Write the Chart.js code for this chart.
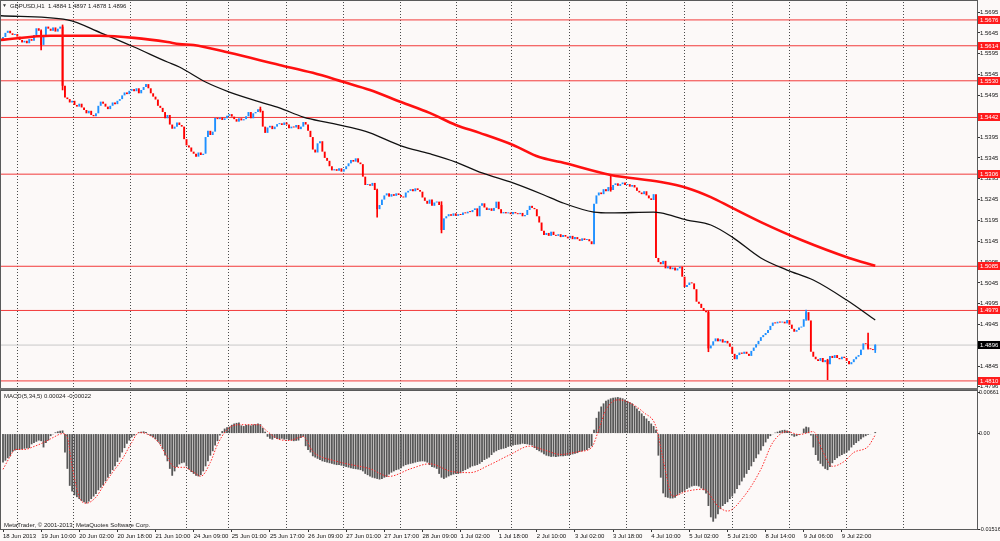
<!DOCTYPE html>
<html><head><meta charset="utf-8">
<script src="https://cdn.jsdelivr.net/npm/chart.js@4.4.1/dist/chart.umd.min.js"></script>
<style>
html,body{margin:0;padding:0;background:#fcf9f8;width:1000px;height:541px;overflow:hidden}
#top{position:absolute;left:0;top:0}
#bot{position:absolute;left:0;top:390px}
</style></head><body>
<canvas id="top" width="1000" height="390"></canvas>
<canvas id="bot" width="1000" height="151"></canvas>
<script>
// ---------------- data ----------------
const symbolTitle = "GBPUSD,H1";
const lastBarOHLC = [1.4884, 1.4897, 1.4878, 1.4896];
const firstOpen = 1.5630;
const closes = [
1.5635,1.5645,1.5650,1.5644,1.5640, 1.5642,1.5636,1.5628,1.5622,1.5626, 1.5620,1.5630,1.5626,1.5640,1.5656,
1.5650,1.5616, 1.5640,1.5660,1.5655,1.5650, 1.5658,1.5648,1.5655,1.5660, 1.5518,
1.5490,1.5486,1.5478,1.5482,1.5472,1.5468,1.5475,1.5466, 1.5460,1.5452,1.5458,1.5448,1.5445,1.5452,
1.5470,1.5480,1.5475, 1.5468,1.5462,1.5470, 1.5478,1.5474,1.5482,1.5486, 1.5495,1.5502,1.5498,1.5506,1.5510,
1.5505,1.5512,1.5500,1.5508, 1.5515,1.5522,1.5512,1.5500, 1.5492,1.5485,1.5470,1.5465,1.5455,
1.5440,1.5448,1.5425,1.5415,1.5420, 1.5430,1.5424, 1.5420, 1.5390,1.5375,1.5370, 1.5360,1.5355,1.5348,1.5358,1.5352,
1.5355, 1.5395,1.5410, 1.5400,1.5408, 1.5441, 1.5438,1.5442,1.5436,1.5440, 1.5446,1.5450,1.5444,
1.5438,1.5432,1.5440,1.5435,1.5438, 1.5445,1.5455,1.5440,1.5452, 1.5455,1.5462,1.5458, 1.5420,1.5405,
1.5418,1.5422,1.5414,1.5420, 1.5426,1.5428,1.5424,1.5430,1.5425, 1.5416,1.5420, 1.5418,1.5424,1.5414,1.5420,
1.5431, 1.5425,1.5410, 1.5395, 1.5365,1.5358, 1.5380,1.5385, 1.5360,1.5345,1.5338, 1.5325,1.5315,1.5318,
1.5314,1.5320,1.5312,1.5318, 1.5325,1.5332, 1.5340,1.5336,1.5344, 1.5334,1.5330, 1.5300,1.5280, 1.5282,1.5278,
1.5285,1.5268, 1.5222, 1.5232,1.5245, 1.5255,1.5260,1.5252,1.5258, 1.5254,1.5260,1.5256, 1.5252,1.5250,
1.5262,1.5266, 1.5270,1.5265,1.5272,1.5268,1.5264, 1.5250,1.5242, 1.5235,1.5245,1.5230,1.5238, 1.5240,1.5232,
1.5172, 1.5200, 1.5205,1.5210,1.5206, 1.5212,1.5206,1.5210,1.5208, 1.5214,1.5212,1.5216,1.5215, 1.5220,1.5224,
1.5205, 1.5230,1.5236, 1.5226,1.5220,1.5224,1.5218, 1.5225,1.5240, 1.5222,1.5212,1.5215,
1.5212,1.5214,1.5210,1.5215,1.5212, 1.5210,1.5213, 1.5205,1.5208, 1.5220,1.5230, 1.5225,1.5222, 1.5205,1.5190,
1.5170,1.5160, 1.5165,1.5158,1.5168,1.5160, 1.5158,1.5162,1.5155,1.5160,1.5156, 1.5152,1.5158,1.5150,1.5155,
1.5150,1.5146,1.5152,1.5148,1.5150,1.5145, 1.5138, 1.5235, 1.5255, 1.5262, 1.5258,1.5270,1.5265, 1.5275,1.5268,1.5280,
1.5284,1.5278,1.5282,1.5286,1.5280, 1.5282,1.5276,1.5280,1.5274, 1.5266,1.5262,1.5258,1.5265, 1.5255,1.5248,1.5244,1.5258,
1.5105, 1.5095,1.5090,1.5098, 1.5080,1.5085,1.5078,1.5082,1.5075,1.5080,1.5084, 1.5060,1.5035, 1.5040,1.5046,1.5044,
1.5030,1.5000, 1.4995,1.4985,1.4978, 1.4975, 1.4888, 1.4895,1.4905,1.4912, 1.4905,1.4910,1.4902,1.4906, 1.4900,1.4892,
1.4875,1.4862, 1.4872,1.4878,1.4875,1.4880, 1.4875,1.4870, 1.4882,1.4890,1.4898,1.4906, 1.4915,1.4920,1.4925,
1.4932,1.4942,1.4950, 1.4948,1.4952,1.4950, 1.4952,1.4948, 1.4956, 1.4945,1.4935,1.4928, 1.4932,1.4938,1.4940,
1.4958,1.4975, 1.4955, 1.4880, 1.4868,1.4862, 1.4858,1.4865,1.4855, 1.4860,1.4850, 1.4870,1.4865,1.4872,
1.4865,1.4862,1.4868,1.4865, 1.4858,1.4850,1.4855, 1.4862,1.4868,1.4872, 1.4885,1.4900, 1.4898,1.4888, 1.4886,1.4884, 1.4896
];
const wickBars  = [16, 25, 108, 157, 184, 255, 296, 337, 346, 363, 366];
const wickHighs = [1.5652,1.5664,1.5467,1.5270,1.5240,1.5304,1.4978,1.4980,1.4862,1.4925,1.4897];
const wickLows  = [1.5604,1.5508,1.5455,1.5203,1.5165,1.5265,1.4880,1.4955,1.4813,1.4886,1.4878];

const maRedBars   = [-1,20,41,55,69,74,80,95,116,130,143,154,167,179,190,200,214,225,234,255,276,287,297,306,318,335,355,366];
const maRedValues = [1.5628,1.5638,1.5638,1.5633,1.5623,1.5618,1.5616,1.5597,1.5568,1.5549,1.5527,1.5508,1.5479,1.5453,1.5424,1.5405,1.5376,1.5347,1.5335,1.5304,1.5287,1.5273,1.5251,1.5225,1.5191,1.5148,1.5105,1.5086];
const maBlackBars   = [-1,27,41,55,69,74,85,95,108,116,126,137,150,154,167,179,190,201,214,227,234,248,255,273,276,287,297,306,318,329,340,354,366];
const maBlackValues = [1.5686,1.5676,1.5645,1.5611,1.5575,1.5563,1.5527,1.5503,1.5479,1.5465,1.5443,1.5429,1.5412,1.5405,1.5374,1.5355,1.5335,1.5309,1.5285,1.5256,1.5239,1.5215,1.5213,1.5215,1.5213,1.5196,1.5184,1.5155,1.5105,1.5076,1.5052,1.5004,1.4956];

const levelPrices = [1.5676,1.5614,1.5530,1.5442,1.5306,1.5085,1.4979,1.4810];
const bidPrice = 1.4896;
const priceTicks = [1.5695,1.5645,1.5595,1.5545,1.5495,1.5445,1.5395,1.5345,1.5295,1.5245,1.5195,1.5145,1.5095,1.5045,1.4995,1.4945,1.4895,1.4845,1.4796];

const macdValues = [
-0.00458,-0.0043,-0.0039,-0.00363, -0.0029,-0.0027,-0.0026,-0.00255,-0.0025, -0.0024,-0.00235,-0.0023, -0.0017,-0.0015,-0.0013,
-0.0011,-0.0012, -0.0022, -0.0015,-0.0011, -0.0004,-0.0001, 0.0002,0.00035,0.00045,0.0005, -0.003, -0.0056,-0.0083,
-0.0092,-0.0098,-0.0101, -0.0104,-0.0107,-0.0109,-0.0111, -0.0108,-0.0104,-0.01,-0.0096, -0.009,-0.0086,-0.0082,-0.0076,
-0.007,-0.0064,-0.0058,-0.0052, -0.0045,-0.0038,-0.003,-0.0023, -0.0016,-0.0011,-0.0006, -0.0003,-0.0001,
0.0002,0.0003,0.00035,0.00025, -0.0002,-0.0004,-0.0006, -0.0009,-0.0013,-0.0017, -0.0025,-0.0035,-0.0044, -0.0056,-0.0067,
-0.006,-0.0053, -0.0049,-0.0047,-0.0046, -0.0052,-0.0057,-0.0061, -0.0064,-0.0067,-0.0068,-0.0066, -0.006,-0.0052,-0.0044,
-0.0035,-0.0028,-0.0019,-0.0012, -0.0003,0.0004, 0.0008,0.001,0.0011, 0.0014,0.0016,0.0017,0.00175,
0.0013,0.0012,0.00135,0.0014,0.0013,0.00145,0.0015,0.0016, 0.0015, 0.0009,0.0003, -0.0005,-0.0008,-0.00095,
-0.0007,-0.00085,-0.0009,-0.0008,-0.00095,-0.0009, -0.001,-0.0011,-0.0012,-0.00115,-0.0011, -0.0007,-0.0005,
-0.002,-0.0026,-0.003, -0.0036,-0.0038,-0.004,-0.0042,-0.0044,-0.0045,-0.0046,-0.0047,
-0.0048,-0.0049,-0.005,-0.005,-0.0051,-0.0052,-0.0053, -0.0054,-0.0055,-0.0056,-0.00565,-0.0057,-0.0058,
-0.006,-0.0064,-0.0066,-0.0068, -0.007,-0.0071,-0.0072,-0.0073,-0.0072,-0.007,-0.0069, -0.0065,-0.0062,-0.006,-0.0058,-0.0057,
-0.0055,-0.0052,-0.005,-0.0049,-0.0048,-0.0047, -0.0046,-0.0045,-0.00445,-0.0044,-0.00445,-0.0046, -0.005,-0.0053,-0.0054,-0.0056,
-0.0064,-0.007,-0.0072,-0.007, -0.0068,-0.0066,-0.0065,-0.0064,-0.0064,-0.0063, -0.006,-0.0058,-0.0056,-0.0054,-0.0052,-0.0051,
-0.005,-0.0048,-0.0045,-0.0042,-0.004,-0.0038, -0.0034,-0.003,-0.0028,-0.0026,-0.0025,-0.0024,
-0.0023,-0.0021,-0.002,-0.0019,-0.0018,-0.00175, -0.0017,-0.0016,-0.00165,-0.0017,-0.0018,-0.0019,
-0.0023,-0.0026,-0.0028,-0.003, -0.0033,-0.0035,-0.0036,-0.0037,-0.00365, -0.0037,-0.00365,-0.0036,-0.0036,-0.00355,
-0.0035,-0.0034,-0.0033,-0.0032,-0.0031, -0.0029,-0.0028,-0.0027,-0.0026, -0.0023,-0.002,
0.0006, 0.0025, 0.0035, 0.0043,0.0048,0.0052, 0.0054,0.0056,0.0057, 0.00575,0.0058,0.0057,0.0056,
0.0054,0.0052,0.005,0.0048, 0.0044,0.004,0.0036,0.0032, 0.0028,0.0024,0.002,0.0016,0.0012, 0.0006,
-0.0035, -0.007,-0.0095, -0.0101,-0.0102,-0.0103,-0.0103,-0.0102, -0.0098,-0.0095,-0.0093,-0.0091,-0.0088,-0.0086,
-0.0084,-0.0083,-0.0083,-0.0084, -0.0087,-0.009,-0.0095, -0.0115,-0.0133, -0.014, -0.0135,-0.0128,
-0.012,-0.0115,-0.0112,-0.0109, -0.0104,-0.01,-0.0095,-0.0088,-0.0082,-0.0076, -0.007,-0.0064,-0.0058,-0.0052,-0.0045,-0.0039,
-0.0033,-0.0027,-0.002,-0.0014, -0.0008,-0.0004,-0.0001,0.00015, 0.0003,0.00045,0.00055,0.0006, 0.0005,0.0003,
-0.0003,-0.0005,-0.0004,-0.0002, 0.0001, 0.0008,0.0011, 0.001, -0.0003, -0.0022, -0.0034,-0.0043,
-0.0048,-0.0052,-0.0056,-0.0058, -0.0053,-0.0047,-0.0042, -0.0039,-0.0036,-0.0034,-0.0032,-0.003,-0.0027,
-0.0022,-0.0018,-0.0015,-0.0012, -0.0009,-0.0006,-0.0004,-0.0002, -0.0001,0,0.00024
];
const signalBars = [0,3,5,9,13,17,21,25,27,29,32,35,39,42,46,50,54,57,60,65,69,72,76,80,83,87,90,94,99,107,111,115,120,126,130,134,137,143,154,162,171,179,188,196,204,213,221,227,234,242,247,250,253,258,262,269,274,277,281,287,294,300,304,311,318,323,329,334,340,344,348,353,357,363,366];
const signalValues = [-0.00568,-0.00363,-0.00252,-0.00252,-0.00205,-0.00142,-0.00063,0,-0.00063,-0.0052,-0.0101,-0.01105,-0.0101,-0.00836,-0.00615,-0.0041,-0.00142,0.00016,0,-0.00126,-0.00378,-0.00536,-0.00536,-0.00615,-0.00678,-0.00458,-0.00174,0.00063,0.00142,0.00142,0.00032,-0.00079,-0.0011,-0.00047,-0.00284,-0.00378,-0.0041,-0.0047,-0.0056,-0.0068,-0.0056,-0.0048,-0.006,-0.0062,-0.005,-0.0033,-0.002,-0.0026,-0.00331,-0.00284,-0.00221,0.00063,0.00379,0.00536,0.00505,0.00331,0.0011,-0.0041,-0.00994,-0.00915,-0.00884,-0.01152,-0.01231,-0.00994,-0.00568,-0.00142,0.00032,-0.00016,0.00032,-0.00284,-0.0052,-0.00442,-0.003,-0.00205,-0.00022];
const macdTicks = [0.00661, 0, -0.01516];

const dateLabels = ["18 Jun 2013","19 Jun 10:00","20 Jun 02:00","20 Jun 18:00","21 Jun 10:00","24 Jun 09:00","25 Jun 01:00","25 Jun 17:00","26 Jun 09:00","27 Jun 01:00","27 Jun 17:00","28 Jun 09:00","1 Jul 02:00","1 Jul 18:00","2 Jul 10:00","3 Jul 02:00","3 Jul 18:00","4 Jul 10:00","5 Jul 02:00","5 Jul 21:00","8 Jul 14:00","9 Jul 06:00","9 Jul 22:00"];
const dateLabelBars = [0,16,32,48,64,80,96,112,128,144,160,176,192,208,224,240,256,272,288,304,320,336,352];
const daySeparatorBars = [6,29.4,53.7,76.8,94.8,118.8,142.7,166.6,190.1,213.5,237.9,261.8,286.1,305.9,330.2,354.1,378];

// ---------------- style ----------------
const FONT = "'Liberation Sans',Arial,sans-serif";
const FS = 6;
const BULL = '#1e90ff', BEAR = '#ff0000', LEVEL = '#f23a3a';
const X_MIN = -0.84, X_MAX = 408.7;
Chart.defaults.font.family = FONT;
Chart.defaults.font.size = FS;
Chart.defaults.color = '#000';

function txt(ctx, s, x, y, size, color, align) {
  ctx.font = size + 'px ' + FONT; ctx.fillStyle = color;
  ctx.textAlign = align || 'left'; ctx.textBaseline = 'middle';
  ctx.fillText(s, x, y);
}
const opens = closes.map((c, i) => i === 0 ? firstOpen : closes[i - 1]);
const fitTo = (size) => s => {
  if (s.isHorizontal()) s.height = size; else s.width = size;
  s.paddingTop = 0; s.paddingBottom = 0; s.paddingLeft = 0; s.paddingRight = 0;
};

const gridAxis = (pos) => ({
  type: 'linear', position: pos, min: X_MIN, max: X_MAX, bounds: 'data', offset: false,
  afterBuildTicks: s => { s.ticks = daySeparatorBars.map(v => ({ value: v })); },
  afterFit: fitTo(0),
  ticks: { display: false },
  grid: { drawTicks: false, offset: false, color: '#4a4a4a', lineWidth: 1 },
  border: { display: false, dash: [1, 2] }
});

// ---------------- price chart ----------------
const levelSets = levelPrices.map(L => ({
  type: 'line', data: [{ x: X_MIN, y: L }, { x: X_MAX, y: L }],
  borderColor: LEVEL, borderWidth: 1, pointRadius: 0, order: 6
}));
new Chart(document.getElementById('top'), {
  data: {
    datasets: [
      ...levelSets,
      { type: 'line', data: [{ x: X_MIN, y: bidPrice }, { x: X_MAX, y: bidPrice }], borderColor: '#c8c8c8', borderWidth: 1, pointRadius: 0, order: 7 },
      { type: 'bar', data: wickBars.map((b, k) => ({ x: b, y: [wickLows[k], wickHighs[k]] })),
        backgroundColor: wickBars.map(b => closes[b] >= opens[b] ? BULL : BEAR), barThickness: 1, grouped: false, order: 4 },
      { type: 'bar', data: closes.map((c, i) => ({ x: i, y: [opens[i], c] })),
        backgroundColor: closes.map((c, i) => c >= opens[i] ? BULL : BEAR),
        barPercentage: 0.8, categoryPercentage: 1, grouped: false, minBarLength: 1, borderWidth: 0, order: 3 },
      { type: 'line', data: maBlackBars.map((b, k) => ({ x: b, y: maBlackValues[k] })), borderColor: '#111', borderWidth: 1.3,
        pointRadius: 0, cubicInterpolationMode: 'monotone', order: 1 },
      { type: 'line', data: maRedBars.map((b, k) => ({ x: b, y: maRedValues[k] })), borderColor: '#ff1010', borderWidth: 2.6,
        pointRadius: 0, cubicInterpolationMode: 'monotone', order: 0 }
    ]
  },
  options: {
    responsive: false, animation: false, events: [],
    layout: { padding: { left: 1, top: 2, right: 0, bottom: 2 } },
    plugins: { legend: { display: false }, tooltip: { enabled: false } },
    scales: {
      x: gridAxis('bottom'),
      y: {
        type: 'linear', position: 'right', min: 1.4793, max: 1.5719, bounds: 'data',
        afterBuildTicks: s => { s.ticks = priceTicks.map(v => ({ value: v })); },
        afterFit: fitTo(23),
        ticks: { callback: v => v.toFixed(4), padding: 0, autoSkip: false, font: { size: FS }, color: '#111' },
        grid: { drawOnChartArea: false, drawTicks: true, tickLength: 3, color: '#333' },
        border: { display: false }
      }
    }
  },
  plugins: [{
    id: 'topDeco',
    afterDraw(chart) {
      const { ctx, chartArea: a, scales: { y } } = chart;
      ctx.save();
      ctx.strokeStyle = '#5a5a5a'; ctx.lineWidth = 1;
      ctx.strokeRect(0.5, 0.5, a.right, a.bottom);
      ctx.fillStyle = '#707070'; ctx.fillRect(0, a.bottom, a.right + 1, chart.height - a.bottom);
      levelPrices.forEach(L => {
        const py = Math.round(y.getPixelForValue(L));
        ctx.fillStyle = '#ff1c1c'; ctx.fillRect(a.right + 1, py - 4, 22, 8);
        txt(ctx, L.toFixed(4), a.right + 3, py + 0.5, FS, '#fff');
      });
      const pb = Math.round(y.getPixelForValue(bidPrice));
      ctx.fillStyle = '#000'; ctx.fillRect(a.right + 1, pb - 4, 22, 8);
      txt(ctx, bidPrice.toFixed(4), a.right + 3, pb + 0.5, FS, '#fff');
      txt(ctx, '\u25BC', 2, 6, 5, '#333');
      txt(ctx, symbolTitle + '  ' + lastBarOHLC.map(v => v.toFixed(4)).join(' '), 10, 6.5, FS, '#222');
      ctx.restore();
    }
  }]
});

// ---------------- MACD chart ----------------
new Chart(document.getElementById('bot'), {
  data: {
    datasets: [
      { type: 'line', data: signalBars.map((b, k) => ({ x: b, y: signalValues[k] })), borderColor: '#ff2a2a', borderWidth: 1,
        borderDash: [1.5, 1.5], pointRadius: 0, cubicInterpolationMode: 'monotone', order: 0 },
      { type: 'bar', data: macdValues.map((v, i) => ({ x: i, y: v })), backgroundColor: '#575757',
        borderWidth: 0, barPercentage: 0.75, categoryPercentage: 1, grouped: false, order: 2 }
    ]
  },
  options: {
    responsive: false, animation: false, events: [],
    layout: { padding: { left: 1, top: 2, right: 0, bottom: 0 } },
    plugins: { legend: { display: false }, tooltip: { enabled: false } },
    scales: {
      xg: gridAxis('bottom'),
      x: {
        type: 'linear', position: 'bottom', min: X_MIN, max: X_MAX, bounds: 'data', offset: false,
        afterBuildTicks: s => { s.ticks = dateLabelBars.map(v => ({ value: v })); },
        afterFit: fitTo(12),
        ticks: { callback: (v, i) => dateLabels[i], align: 'start', padding: 1, autoSkip: false, maxRotation: 0, minRotation: 0, font: { size: FS }, color: '#111' },
        grid: { drawOnChartArea: false, drawTicks: true, offset: false, tickLength: 3, color: '#333' },
        border: { display: false }
      },
      y: {
        type: 'linear', position: 'right', min: -0.01516, max: 0.00661, bounds: 'data',
        afterBuildTicks: s => { s.ticks = macdTicks.map(v => ({ value: v })); },
        afterFit: fitTo(23),
        ticks: { callback: v => v === 0 ? '0.00' : v.toFixed(5), padding: -1, autoSkip: false, font: { size: 5.5 }, color: '#111',
                 labelOffset: c => c.index === 0 ? 3 : (c.index === macdTicks.length - 1 ? -3 : 0) },
        grid: { drawOnChartArea: false, drawTicks: true, tickLength: 3, color: '#333' },
        border: { display: false }
      }
    }
  },
  plugins: [{
    id: 'botDeco',
    afterDraw(chart) {
      const { ctx, chartArea: a } = chart;
      ctx.save();
      ctx.strokeStyle = '#5a5a5a'; ctx.lineWidth = 1;
      ctx.strokeRect(0.5, 0.5, a.right, a.bottom);
      txt(ctx, 'MACD(5,34,5) ' + macdValues[macdValues.length - 1].toFixed(5) + ' ' + signalValues[signalValues.length - 1].toFixed(5), 4, 6, FS, '#222');
      txt(ctx, 'MetaTrader, \u00A9 2001-2013, MetaQuotes Software Corp.', 4, 135.5, FS, '#222');
      ctx.restore();
    }
  }]
});
</script>
</body></html>
